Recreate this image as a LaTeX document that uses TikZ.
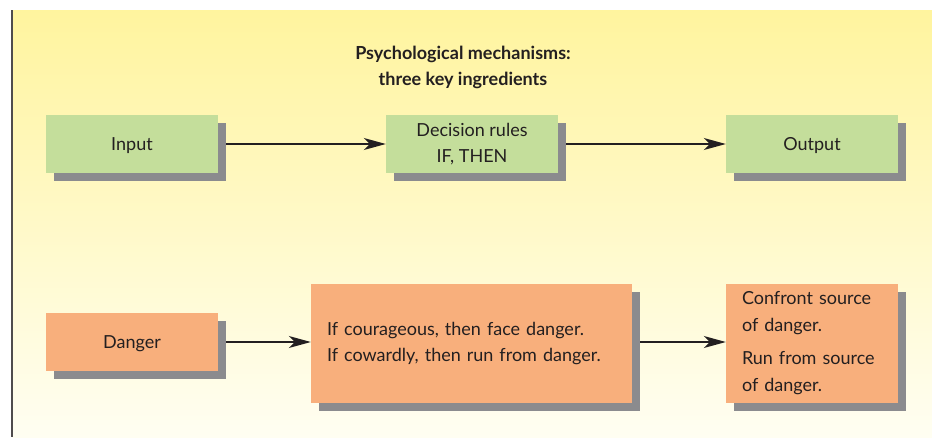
\documentclass[tikz,border=0pt]{standalone}
\usepackage{fontspec}
\setmainfont{Lato}
\usepackage{xcolor}
\usetikzlibrary{positioning,arrows.meta,shadows}
\definecolor{inkdark}{HTML}{231F20}
\definecolor{boxgreen}{HTML}{C4DE9B}
\definecolor{boxorange}{HTML}{F8AF7C}
\definecolor{shadowgray}{HTML}{8B8B8E}
\definecolor{paneltop}{HTML}{FFF49E}
\definecolor{panelbottom}{HTML}{FFFEF2}

\begin{document}
\begin{tikzpicture}[x=1pt, y=-1pt,
  every node/.style={text=inkdark, font=\fontsize{18}{26}\selectfont},
  stagebox/.style={rectangle, inner sep=0pt, minimum width=172pt, minimum height=58pt,
    drop shadow={shadow xshift=8pt, shadow yshift=-8pt, fill=shadowgray, opacity=1}},
  oneline/.style={text depth=0pt},
  flowarrow/.style={-{Stealth[length=22pt, width=12pt, inset=6pt]}, line width=1.3pt, draw=inkdark}]
\useasboundingbox (0,0) rectangle (932,437);
% Background panel
\shade[top color=paneltop, bottom color=panelbottom] (12,10) rectangle (932,437);
\draw[line width=1.4pt, draw=inkdark!80] (12,10) -- (12,437);

% Title
\node[align=center, font=\bfseries\fontsize{18}{26}\selectfont] (title) at (463,67)
  {Psychological mechanisms:\\three key ingredients};

% General mechanism
\node[stagebox, oneline, fill=boxgreen] (input) at (132,144) {Input};
\node[stagebox, fill=boxgreen, align=center] (rules) at (472,144) {Decision rules\\IF, THEN};
\node[stagebox, oneline, fill=boxgreen] (output) at (812,144) {Output};

% Danger example
\node[stagebox, oneline, fill=boxorange] (danger) at (132,342) {Danger};
\node[stagebox, fill=boxorange, minimum width=321pt, minimum height=119pt,
  text width=289pt, align=left] (choice) at (471.5,343.5)
  {If courageous, then face danger.\\If cowardly, then run from danger.};
\node[stagebox, fill=boxorange, minimum height=119pt, font=\fontsize{18}{27}\selectfont,
  text width=140pt, align=left] (action) at (812,343.5)
  {Confront source\\of danger.\\[6pt]Run from source\\of danger.};

\draw[flowarrow] (input.east) ++(8,0) -- (rules.west);
\draw[flowarrow] (rules.east) ++(8,0) -- (output.west);
\draw[flowarrow] (danger.east) ++(8,0) -- (danger.east -| choice.west);
\draw[flowarrow] (danger.east -| choice.east) ++(8,0) -- (danger.east -| action.west);
\end{tikzpicture}
\end{document}
